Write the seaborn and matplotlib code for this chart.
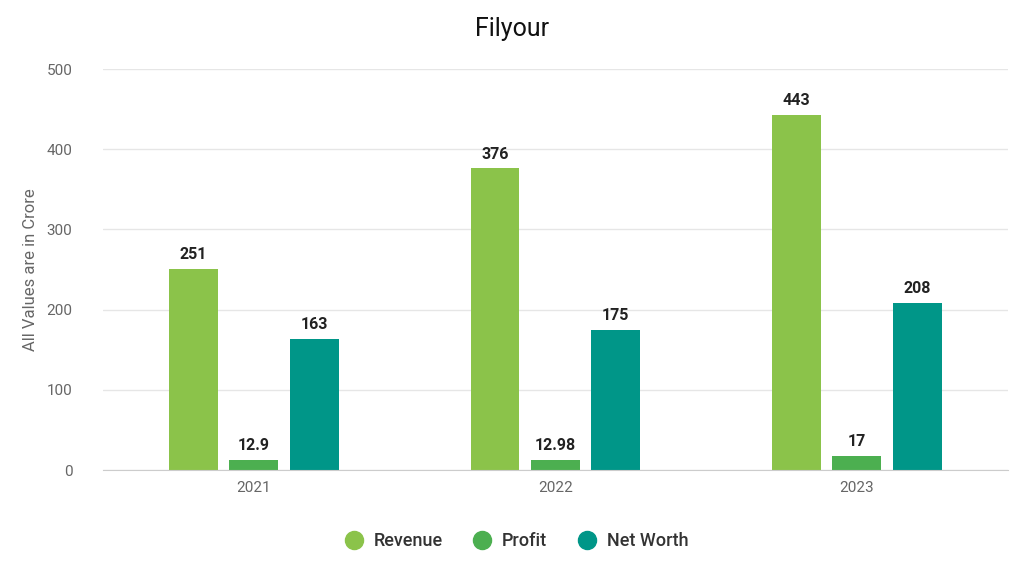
import pandas as pd
import matplotlib.pyplot as plt
import seaborn as sns
from matplotlib.lines import Line2D

years = ["2021", "2022", "2023"]
revenue = [251, 376, 443]
profit = [12.9, 12.98, 17]
net_worth = [163, 175, 208]
series = ["Revenue", "Profit", "Net Worth"]
colors = ["#8BC34A", "#4CAF50", "#009688"]

df = pd.DataFrame({
    "year": years * 3,
    "metric": ["Revenue"] * 3 + ["Profit"] * 3 + ["Net Worth"] * 3,
    "value": revenue + profit + net_worth,
})
labels = {"Revenue": revenue, "Profit": ["12.9", "12.98", "17"], "Net Worth": net_worth}

sns.set_style("white")
plt.rcParams["font.family"] = ["Roboto", "DejaVu Sans"]

fig = plt.figure(figsize=(10.24, 5.82), dpi=100)
ax = fig.add_axes([0.1006, 0.1924, 0.8834, 0.689])

sns.barplot(data=df, x="year", y="value", hue="metric", hue_order=series,
            palette=colors, width=0.6, gap=0.19, ax=ax, legend=False,
            saturation=1, edgecolor="none")

for cont, name in zip(ax.containers, series):
    ax.bar_label(cont, labels=[str(v) for v in labels[name]], padding=5,
                 fontsize=11.5, fontweight="bold", color="#222222")

ax.set_xlim(-0.5, 2.5)
ax.set_ylim(0, 500)
ax.set_yticks([0, 100, 200, 300, 400, 500])
ax.yaxis.grid(True, color="#e6e6e6", linewidth=1)
ax.set_axisbelow(True)
for s in ["top", "right", "left"]:
    ax.spines[s].set_visible(False)
ax.spines["bottom"].set_color("#cccccc")
ax.tick_params(axis="both", length=0, labelsize=11, colors="#666666")
ax.tick_params(axis="y", pad=22)
ax.tick_params(axis="x", pad=8)
ax.set_xlabel("")
ax.set_ylabel("All Values are in Crore", fontsize=12, color="#666666", labelpad=6)

fig.suptitle("Filyour", x=0.5, y=0.97, fontsize=18, color="#111111")

handles = [Line2D([0], [0], marker="o", linestyle="", markersize=13,
                  markerfacecolor=c, markeredgecolor=c) for c in colors]
fig.legend(handles, series, loc="center", bbox_to_anchor=(0.5, 0.07), ncol=3,
           frameon=False, fontsize=13, handletextpad=0.1, columnspacing=1.2,
           labelcolor="#333333", prop={"size": 13, "weight": "medium"})

fig.savefig("out.png", dpi=100, facecolor="white")
